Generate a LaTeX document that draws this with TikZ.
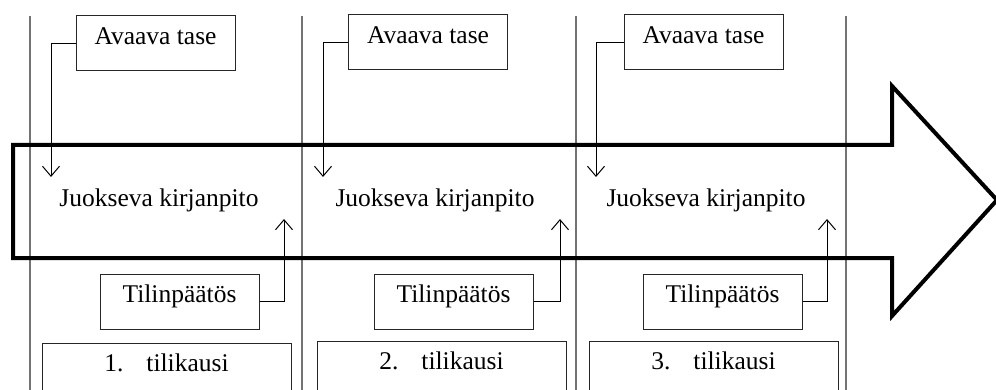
\documentclass[tikz,border=0pt]{standalone}
\usepackage{fontspec}
\setmainfont{Liberation Serif}
\usetikzlibrary{arrows.meta}
\begin{document}
\begin{tikzpicture}[x=1pt,y=-1pt,
  txt/.style={font=\fontsize{25.5}{30}\selectfont},
  topbox/.style={txt,draw=black!85,line width=1pt,inner sep=0pt,minimum width=159pt,anchor=base},
  periodbox/.style={txt,draw=black!85,line width=1pt,inner sep=0pt,minimum width=249pt,anchor=base,text height=28pt,text depth=40pt},
  sep/.style={draw=black!55,line width=1.5pt},
  conn/.style={draw=black,line width=1pt,-{Straight Barb[length=10pt,width=17pt,line width=1pt]}},
  bigarrow/.style={draw=black,line width=4pt,miter limit=20}
]
\useasboundingbox (0,0) rectangle (996,390);
% period separators
\foreach \x/\n in {30/s1,302/s2,576/s3,846/s4}{
  \coordinate (\n t) at (\x,16);
  \coordinate (\n b) at (\x,392);
  \draw[sep] (\n t) -- (\n b);
}
% big arrow
\coordinate (ba1) at (13,145);
\coordinate (ba2) at (892,145);
\coordinate (ba3) at (892,86);
\coordinate (ba4) at (997,200);
\coordinate (ba5) at (892,316);
\coordinate (ba6) at (892,258);
\coordinate (ba7) at (13,258);
\draw[bigarrow] (ba1) -- (ba2) -- (ba3) -- (ba4) -- (ba5) -- (ba6) -- (ba7) -- cycle;
% Avaava tase boxes
\node[topbox,text height=29pt,text depth=26pt] (a1) at (155.5,45) {Avaava tase};
\node[topbox,text height=29pt,text depth=26pt] (a2) at (428,44) {Avaava tase};
\node[topbox,text height=29pt,text depth=26pt] (a3) at (703.5,44) {Avaava tase};
% Juokseva kirjanpito
\node[txt,anchor=base] (j1) at (159,207) {Juokseva kirjanpito};
\node[txt,anchor=base] (j2) at (435,207) {Juokseva kirjanpito};
\node[txt,anchor=base] (j3) at (706,207) {Juokseva kirjanpito};
% Tilinpaatos boxes
\node[topbox,text height=28pt,text depth=27pt] (t1) at (179.5,302) {Tilinpäätös};
\node[topbox,text height=28pt,text depth=27pt] (t2) at (453.5,302) {Tilinpäätös};
\node[topbox,text height=28pt,text depth=27pt] (t3) at (722.5,302) {Tilinpäätös};
% tilikausi boxes
\node[periodbox] (p1) at (166.5,371) {1.\hspace{0.9em}tilikausi};
\node[periodbox] (p2) at (441.5,369) {2.\hspace{0.9em}tilikausi};
\node[periodbox] (p3) at (713.5,369) {3.\hspace{0.9em}tilikausi};
% connectors
\coordinate (d1) at (51,177);
\coordinate (d2) at (323,177);
\coordinate (d3) at (596,177);
\coordinate (u1) at (284,219);
\coordinate (u2) at (560,219);
\coordinate (u3) at (827,219);
\draw[conn] (a1.west) -| (d1);
\draw[conn] (a2.west) -| (d2);
\draw[conn] (a3.west) -| (d3);
\draw[conn] (t1.east) -| (u1);
\draw[conn] (t2.east) -| (u2);
\draw[conn] (t3.east) -| (u3);
\end{tikzpicture}
\end{document}
